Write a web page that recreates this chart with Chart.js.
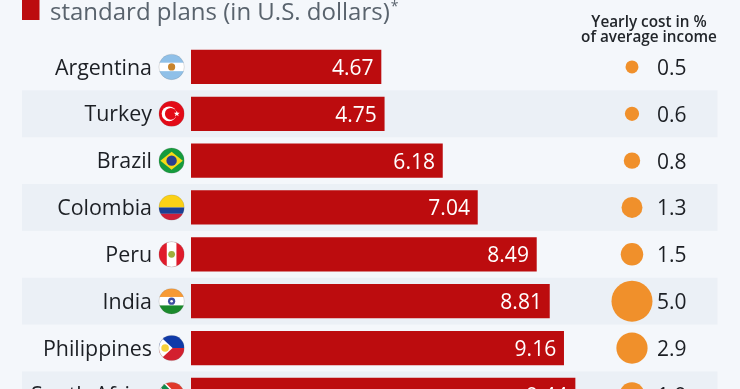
<!DOCTYPE html>
<html>
<head>
<meta charset="utf-8">
<style>
html,body{margin:0;padding:0;background:#f4f7fb;overflow:hidden;width:740px;height:389px}
#wrap{position:relative;width:740px;height:389px;overflow:hidden}
#wrap canvas{position:absolute;left:0;top:0}
</style>
<script src="https://cdn.jsdelivr.net/npm/chart.js@4"></script>
</head>
<body>
<div id="wrap"><canvas id="c" width="740" height="420" style="width:740px;height:420px"></canvas></div>
<script>
const countries = ["Argentina","Turkey","Brazil","Colombia","Peru","India","Philippines","South Africa"];
const monthlyPrice = [4.67,4.75,6.18,7.04,8.49,8.81,9.16,9.44];
const costShare = [0.5,0.6,0.8,1.3,1.5,5.0,2.9,1.9];
const titleText = "standard plans (in U.S. dollars)";
const sideHeader = ["Yearly cost in %","of average income"];

const FONT = '"Open Sans"';
const DOT_COLUMN = 10.84;   // x-scale position of the side column of dots
const DOT_SCALE = 9.17;     // px of radius per sqrt(percent)

function stripesH(ctx,x,y,r,cols){const h=2*r/cols.length;cols.forEach((c,i)=>{ctx.fillStyle=c;ctx.fillRect(x-r,y-r+i*h,2*r,h+.5);});}
const flags = {
  "Argentina"(ctx,x,y,r){stripesH(ctx,x,y,r,["#8fc0e8","#ffffff","#8fc0e8"]);ctx.fillStyle="#c8842c";ctx.beginPath();ctx.arc(x,y,3.6,0,7);ctx.fill();},
  "Turkey"(ctx,x,y,r){ctx.fillStyle="#e30a17";ctx.fillRect(x-r,y-r,2*r,2*r);
    ctx.fillStyle="#fff";ctx.beginPath();ctx.arc(x-2.5,y,7.4,0,7);ctx.fill();
    ctx.fillStyle="#e30a17";ctx.beginPath();ctx.arc(x-.8,y,5.9,0,7);ctx.fill();
    ctx.fillStyle="#fff";ctx.beginPath();for(let i=0;i<10;i++){const a=i*Math.PI/5-Math.PI/2,q=i%2?1.3:3.1;ctx.lineTo(x+5.2+q*Math.cos(a),y+q*Math.sin(a));}ctx.fill();},
  "Brazil"(ctx,x,y,r){ctx.fillStyle="#169b3e";ctx.fillRect(x-r,y-r,2*r,2*r);
    ctx.fillStyle="#f7d917";ctx.beginPath();ctx.moveTo(x-r+1.5,y);ctx.lineTo(x,y-9);ctx.lineTo(x+r-1.5,y);ctx.lineTo(x,y+9);ctx.fill();
    ctx.fillStyle="#2a3f8e";ctx.beginPath();ctx.arc(x,y,5.2,0,7);ctx.fill();},
  "Colombia"(ctx,x,y,r){ctx.fillStyle="#fbd116";ctx.fillRect(x-r,y-r,2*r,r);ctx.fillStyle="#1c3f94";ctx.fillRect(x-r,y,2*r,r/2);ctx.fillStyle="#ce1f3a";ctx.fillRect(x-r,y+r/2,2*r,r/2);},
  "Peru"(ctx,x,y,r){ctx.fillStyle="#e01b2b";ctx.fillRect(x-r,y-r,2*r,2*r);ctx.fillStyle="#fff";ctx.fillRect(x-r/3-.6,y-r,2*r/3+1.2,2*r);ctx.fillStyle="#9fae3c";ctx.beginPath();ctx.arc(x,y,3.4,0,7);ctx.fill();},
  "India"(ctx,x,y,r){stripesH(ctx,x,y,r,["#f79a35","#ffffff","#1a8a2c"]);ctx.fillStyle="#3f4ea0";ctx.beginPath();ctx.arc(x,y,3.6,0,7);ctx.fill();ctx.fillStyle="#fff";ctx.beginPath();ctx.arc(x,y,1.3,0,7);ctx.fill();},
  "Philippines"(ctx,x,y,r){ctx.fillStyle="#0f3aa8";ctx.fillRect(x-r,y-r,2*r,r);ctx.fillStyle="#d3202f";ctx.fillRect(x-r,y,2*r,r);
    ctx.fillStyle="#fff";ctx.beginPath();ctx.moveTo(x-r,y-r);ctx.lineTo(x+1,y);ctx.lineTo(x-r,y+r);ctx.fill();
    ctx.fillStyle="#f7d13a";ctx.beginPath();ctx.arc(x-6.5,y,3.8,0,7);ctx.fill();},
  "South Africa"(ctx,x,y,r){ctx.fillStyle="#e0392b";ctx.fillRect(x-r,y-r,2*r,r);ctx.fillStyle="#1f3a93";ctx.fillRect(x-r,y,2*r,r);
    ctx.strokeStyle="#fff";ctx.lineWidth=8;ctx.beginPath();ctx.moveTo(x-r,y-r);ctx.lineTo(x,y);ctx.lineTo(x+r,y);ctx.moveTo(x,y);ctx.lineTo(x-r,y+r);ctx.stroke();
    ctx.strokeStyle="#0f8a4a";ctx.lineWidth=5;ctx.stroke();
    ctx.fillStyle="#222";ctx.beginPath();ctx.moveTo(x-r,y-7);ctx.lineTo(x-3,y);ctx.lineTo(x-r,y+7);ctx.fill();}
};

const rowBands = {
  id:"rowBands",
  beforeDraw(chart){
    const {ctx,scales:{y}}=chart;
    const step=y.getPixelForTick(1)-y.getPixelForTick(0);
    ctx.save();ctx.fillStyle="#ebf0f6";
    countries.forEach((c,i)=>{ if(i%2===1) ctx.fillRect(22,y.getPixelForTick(i)-step/2,695.5,step); });
    ctx.restore();
  }
};

const annotations = {
  id:"annotations",
  afterDraw(chart){
    const {ctx,scales:{y}}=chart;
    ctx.save();
    // title fragment + legend square
    ctx.fillStyle="#bc0c0e";ctx.fillRect(22,0,17.5,20);
    ctx.fillStyle="#59636d";ctx.textAlign="left";ctx.textBaseline="alphabetic";
    ctx.font='24px '+FONT;ctx.fillText(titleText,50,20);
    const tw=ctx.measureText(titleText).width;
    ctx.font='14px '+FONT;ctx.fillText("*",50+tw+1,11);
    // side header
    ctx.fillStyle="#22262b";ctx.textAlign="center";ctx.font='600 15.3px '+FONT;
    ctx.fillText(sideHeader[0],649,27);ctx.fillText(sideHeader[1],649,42);
    // bar value labels
    const bars=chart.getDatasetMeta(0).data;
    ctx.font='21px '+FONT;ctx.textBaseline="middle";ctx.textAlign="right";ctx.fillStyle="#ffffff";
    bars.forEach((b,i)=>ctx.fillText(monthlyPrice[i].toFixed(2),b.x-7.5,b.y+2));
    // side values
    ctx.textAlign="left";ctx.fillStyle="#1c1f24";
    costShare.forEach((v,i)=>ctx.fillText(v.toFixed(1),657,y.getPixelForTick(i)+2));
    // flags
    countries.forEach((c,i)=>{
      const fx=171.6,fy=y.getPixelForTick(i),r=12.7;
      ctx.save();ctx.beginPath();ctx.arc(fx,fy,r,0,Math.PI*2);ctx.clip();
      flags[c](ctx,fx,fy,r);ctx.restore();
      ctx.strokeStyle="rgba(110,110,110,.35)";ctx.lineWidth=.6;ctx.beginPath();ctx.arc(fx,fy,r,0,Math.PI*2);ctx.stroke();
    });
    ctx.restore();
  }
};

new Chart(document.getElementById("c"),{
  type:"bar",
  data:{
    labels:countries,
    datasets:[
      {label:"Monthly price",data:monthlyPrice,backgroundColor:"#bc0c0e",barThickness:33.6,order:2},
      {type:"bubble",label:"Yearly cost in % of average income",
       data:countries.map((c,i)=>({x:DOT_COLUMN,y:c,v:costShare[i]})),
       backgroundColor:"#f0902b",borderWidth:0,hoverBorderWidth:0,order:1,
       radius:ctx=>DOT_SCALE*Math.sqrt(ctx.raw.v),clip:false}
    ]
  },
  options:{
    indexAxis:"y",responsive:false,maintainAspectRatio:false,animation:false,
    layout:{autoPadding:false,padding:{top:43.5,bottom:1.7,left:0,right:0}},
    plugins:{legend:{display:false},tooltip:{enabled:false},title:{display:false}},
    scales:{
      x:{type:"linear",min:0,max:13.495,display:false},
      y:{type:"category",offset:true,
         grid:{display:false,drawTicks:false},border:{display:false},
         afterFit:s=>{s.width=191;s.paddingTop=0;s.paddingBottom=0;},
         ticks:{padding:39,labelOffset:1.5,color:"#1c1f24",font:{family:FONT,size:21.4},autoSkip:false}}
    }
  },
  plugins:[rowBands,annotations]
});
</script>
</body>
</html>
